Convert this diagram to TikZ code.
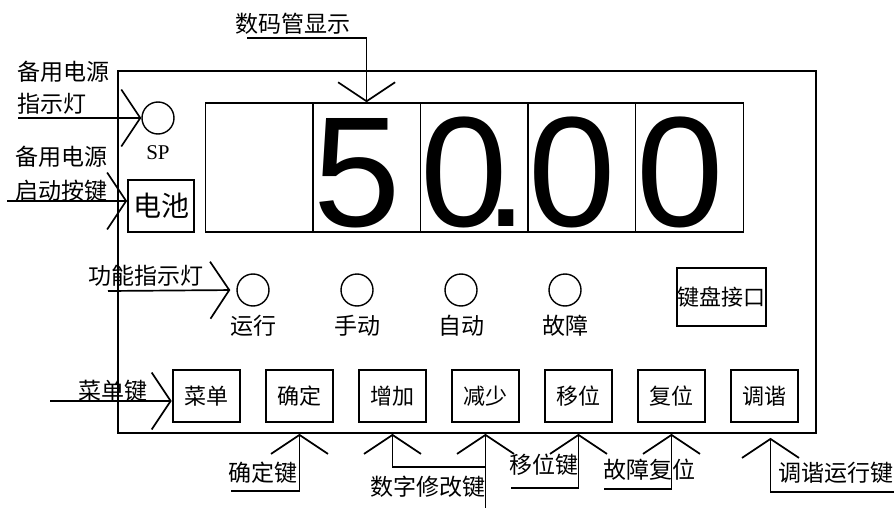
\documentclass[tikz,border=0pt]{standalone}
\usepackage{fontspec}
\setmainfont{Liberation Serif}
\newfontfamily\cjkfont{Noto Sans CJK SC}
\newfontfamily\segfont{Liberation Sans}
\usetikzlibrary{arrows.meta,positioning,calc}

\tikzset{
  cell/.style={draw, line width=1.4pt, minimum width=107.6pt, minimum height=129pt, inner sep=0pt},
  lamp/.style={draw, circle, line width=1.4pt, minimum size=32pt, inner sep=0pt},
  key/.style={draw, line width=1.7pt, minimum width=67pt, minimum height=52pt, inner sep=0pt,
    font=\cjkfont\fontsize{22}{22}\selectfont},
  tag/.style={inner sep=0pt, align=left, font=\cjkfont\fontsize{23}{32}\selectfont},
  digit/.style={inner sep=0pt, anchor=base west, xshift=1pt, yshift=6.5pt,
    font=\segfont\fontsize{157}{157}\selectfont},
  callout/.style={line width=1.7pt, -{Straight Barb[length=19pt,width=57pt]}},
}

\begin{document}
\begin{tikzpicture}[x=1pt, y=-1pt, on grid]
\useasboundingbox (0,0) rectangle (894,508);

% panel
\node[draw, line width=1.8pt, minimum width=698pt, minimum height=362pt] (panel) at (467,252) {};

% display
\node[cell] (c1) at (259,167.5) {};
\node[cell, right=107.6pt of c1] (c2) {};
\node[cell, right=107.6pt of c2] (c3) {};
\node[cell, right=107.6pt of c3] (c4) {};
\node[cell, right=107.6pt of c4] (c5) {};
\node[digit] (d2) at (c2.south west) {5};
\node[digit] (d3) at (c3.south west) {0\kern-24pt.};
\node[digit] (d4) at (c4.south west) {0};
\node[digit] (d5) at (c5.south west) {0};

% lamps
\node[lamp] (sp) at (158,118) {};
\node[below=35pt of sp, font=\fontsize{21}{21}\selectfont] (splbl) {SP};
\node[lamp] (run) at (253,290) {};
\node[lamp, right=104pt of run] (manual) {};
\node[lamp, right=104pt of manual] (autolamp) {};
\node[lamp, right=104pt of autolamp] (fault) {};
\node[tag, below=36pt of run] (runlbl) {运行};
\node[tag, below=36pt of manual] (manuallbl) {手动};
\node[tag, below=36pt of autolamp] (autolbl) {自动};
\node[tag, below=36pt of fault] (faultlbl) {故障};

% battery and keypad port
\node[key, font=\cjkfont\fontsize{28}{28}\selectfont, minimum width=66pt] (bat) at (161,206) {电池};
\node[key, minimum width=89pt, minimum height=58pt] (kbd) at (721.5,297) {键盘接口};

% keys
\node[key, line width=2.6pt] (menu) at (206.5,396) {菜单};
\node[key, right=93pt of menu] (ok) {确定};
\node[key, right=93pt of ok] (inc) {增加};
\node[key, right=93pt of inc] (dec) {减少};
\node[key, right=93pt of dec] (move) {移位};
\node[key, right=93pt of move] (reset) {复位};
\node[key, right=93pt of reset] (tune) {调谐};

% callouts
\coordinate (dispend) at (247,38);
\node[tag, anchor=west] (displbl) at (235,24) {数码管显示};
\draw[callout] (dispend) -| (c2.north);

\coordinate (spend) at (18,118);
\node[tag, anchor=west] (spnote) at (17,88) {备用电源\\指示灯};
\draw[callout] (spend) -- (sp.west);

\coordinate (batend) at (7,201);
\node[tag, anchor=west, font=\cjkfont\fontsize{23}{34}\selectfont] (batnote) at (15,174) {备用电源\\启动按键};
\draw[callout] (batend) -- ([yshift=5pt]bat.west);

\coordinate (funcend) at (108,291);
\node[tag, anchor=west] (funcnote) at (88,276) {功能指示灯};
\draw[callout, shorten >=6pt] (funcend) -- (run.west);

\coordinate (menuend) at (50,401);
\node[tag, anchor=west] (menunote) at (78,391) {菜单键};
\draw[callout] (menuend) -- ([yshift=-5pt]menu.west);

\coordinate (okend) at (231,491);
\node[tag, anchor=west] (oknote) at (228,473) {确定键};
\draw[callout] (okend) -| (ok |- panel.south);

\coordinate (modjoin) at (485.5,467);
\coordinate (modend) at (485.5,508);
\node[tag, anchor=west] (modnote) at (370,487) {数字修改键};
\draw[callout] (modjoin) -| (inc |- panel.south);
\draw[callout] (modend) -- (dec |- panel.south);

\coordinate (moveend) at (511,488);
\node[tag, anchor=west] (movenote) at (509,465) {移位键};
\draw[callout] (moveend) -| (move |- panel.south);

\coordinate (resetend) at (604,489);
\node[tag, anchor=west] (resetnote) at (603,470) {故障复位};
\draw[callout] (resetend) -| (reset |- panel.south);

\coordinate (tuneend) at (894,492);
\node[tag, anchor=west] (tunenote) at (778,473) {调谐运行键};
\draw[callout] (tuneend) -| ($(tune |- panel.south)+(6,4)$);
\end{tikzpicture}
\end{document}
